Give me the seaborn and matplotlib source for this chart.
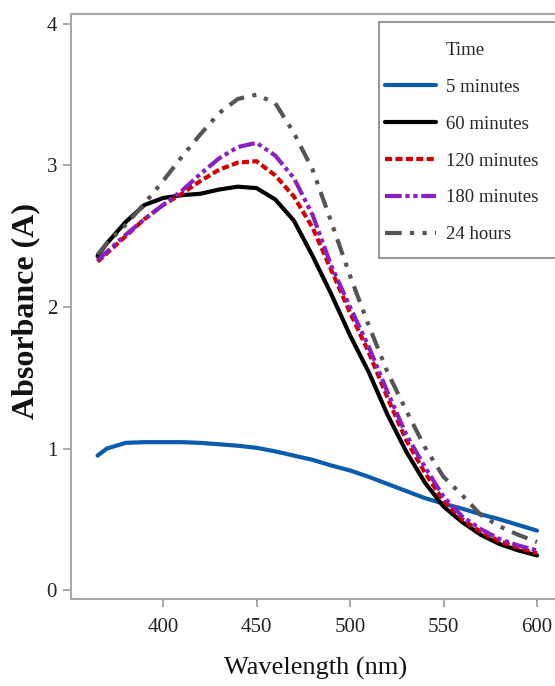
import matplotlib
matplotlib.use("Agg")
import matplotlib.pyplot as plt
from matplotlib.lines import Line2D
from matplotlib.patches import Rectangle
import numpy as np
import pandas as pd
import seaborn as sns

# Wavelength grid (nm)
wavelength = [365, 370, 380, 390, 400, 410, 420, 430, 440, 450, 460, 470, 480,
              490, 500, 510, 520, 530, 540, 550, 560, 570, 580, 590, 600]

# Absorbance readings for each reaction time
abs_5min = [0.95, 1.00, 1.04, 1.045, 1.045, 1.045, 1.04, 1.03, 1.02, 1.005, 0.98,
            0.95, 0.92, 0.88, 0.845, 0.80, 0.75, 0.70, 0.65, 0.61, 0.575, 0.535,
            0.50, 0.46, 0.42]
abs_60min = [2.36, 2.45, 2.60, 2.72, 2.77, 2.79, 2.80, 2.83, 2.85, 2.84, 2.76,
             2.61, 2.36, 2.09, 1.80, 1.54, 1.24, 0.98, 0.76, 0.59, 0.48, 0.39,
             0.325, 0.28, 0.245]
abs_120min = [2.32, 2.38, 2.50, 2.62, 2.72, 2.80, 2.89, 2.97, 3.02, 3.03, 2.93,
              2.78, 2.56, 2.26, 1.96, 1.68, 1.36, 1.06, 0.83, 0.63, 0.50, 0.41,
              0.345, 0.30, 0.26]
abs_180min = [2.33, 2.39, 2.51, 2.62, 2.72, 2.82, 2.94, 3.05, 3.13, 3.16, 3.07,
              2.91, 2.65, 2.29, 2.00, 1.72, 1.40, 1.10, 0.87, 0.66, 0.52, 0.43,
              0.36, 0.315, 0.28]
abs_24h = [2.37, 2.45, 2.58, 2.73, 2.89, 3.06, 3.22, 3.37, 3.47, 3.50, 3.44,
           3.23, 2.97, 2.60, 2.22, 1.87, 1.54, 1.27, 1.01, 0.80, 0.67, 0.53,
           0.45, 0.39, 0.34]

series_names = ["5 minutes", "60 minutes", "120 minutes", "180 minutes", "24 hours"]
series_values = [abs_5min, abs_60min, abs_120min, abs_180min, abs_24h]

x_ticks = [400, 450, 500, 550, 600]
y_ticks = [0, 1, 2, 3, 4]

df = pd.concat(
    [pd.DataFrame({"Wavelength": wavelength, "Absorbance": vals, "Time": name})
     for name, vals in zip(series_names, series_values)],
    ignore_index=True,
)

palette = {
    "5 minutes": "#0b5cab",
    "60 minutes": "#000000",
    "120 minutes": "#d40000",
    "180 minutes": "#8a1fc2",
    "24 hours": "#555555",
}
dashes = {
    "5 minutes": "",
    "60 minutes": "",
    "120 minutes": (1.7, 0.8),
    "180 minutes": (4.0, 0.9, 1.0, 0.9, 1.0, 0.9),
    "24 hours": (4.0, 2.0, 1.0, 2.0, 1.0, 2.0),
}

sns.set_style("ticks")
plt.rcParams["font.family"] = ["Liberation Serif", "DejaVu Serif"]

W, H = 555, 686
fig = plt.figure(figsize=(W / 100, H / 100), dpi=100)
ax = fig.add_axes([71 / W, 87 / H, 1 - 71 / W, (599 - 14) / H])

sns.lineplot(
    data=df, x="Wavelength", y="Absorbance", hue="Time", style="Time",
    palette=palette, dashes=dashes, hue_order=series_names,
    style_order=series_names, linewidth=3.0, ax=ax, legend=True,
)

ax.set_xlim(350.8, 609.6)
ax.set_ylim(-0.063, 4.07)
ax.set_xticks(x_ticks)
ax.set_yticks(y_ticks)
ax.tick_params(axis="both", direction="out", length=6, width=1.2,
               color="#999999", labelsize=15, labelcolor="#222222")
ax.tick_params(axis="x", pad=8)
ax.tick_params(axis="y", pad=4)

for side in ["left", "bottom", "top"]:
    ax.spines[side].set_color("#a8a8a8")
    ax.spines[side].set_linewidth(1.5)
    ax.spines[side].set_visible(True)
ax.spines["right"].set_visible(False)

ax.set_xlabel("Wavelength (nm)", fontsize=19, color="#111111")
ax.xaxis.set_label_coords((316 - 71) / 484, -(668 - 599) / 585)
ax.xaxis.label.set_verticalalignment("center")
ax.set_ylabel("Absorbance (A)", fontsize=23, fontweight="bold", color="#111111")
ax.yaxis.set_label_coords(-(71 - 26) / 484, (599 - 311) / 585)
ax.yaxis.label.set_verticalalignment("center")

# Legend: title row placed in the label column, box drawn separately
handles, labels = ax.get_legend_handles_labels()
pairs = [(h, l) for h, l in zip(handles, labels) if l in series_names]
title_handle = Line2D([], [], color="none")
leg_handles = [title_handle] + [h for h, _ in pairs]
leg_labels = ["Time"] + [l for _, l in pairs]
for h in leg_handles[1:]:
    h.set_linewidth(3.0)
leg = ax.legend(
    leg_handles, leg_labels,
    loc="upper left", bbox_to_anchor=(385 / W, 1 - 42 / H),
    bbox_transform=fig.transFigure, borderaxespad=0, borderpad=0,
    fontsize=13.5, handlelength=2.7, handletextpad=0.55,
    labelspacing=1.05, frameon=False,
)
legend_box = Rectangle((379 / W, 1 - 258 / H), (W + 10 - 379) / W, (258 - 22) / H,
                       transform=fig.transFigure, facecolor="white",
                       edgecolor="#999999", linewidth=1.5, zorder=4)
fig.add_artist(legend_box)
leg.set_zorder(5)
leg.remove()
fig.add_artist(leg)

fig.savefig("out.png", dpi=100)
